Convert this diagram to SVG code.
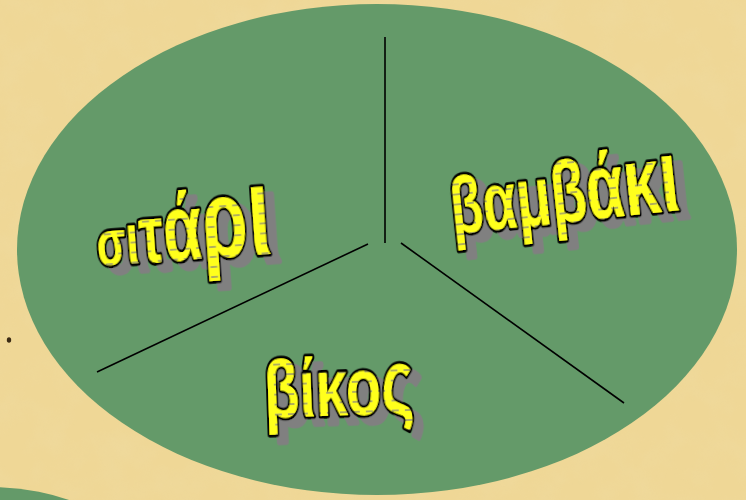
<svg xmlns="http://www.w3.org/2000/svg" width="746" height="500" viewBox="0 0 746 500">
  <defs>
    <filter id="paper" x="0" y="0" width="100%" height="100%">
      <feTurbulence type="fractalNoise" baseFrequency="0.03" numOctaves="4" seed="7" result="n"/>
      <feColorMatrix in="n" type="matrix" values="0 0 0 0 0.86  0 0 0 0 0.72  0 0 0 0 0.38  1.4 0 0 0 -0.55"/>
    </filter>
    <pattern id="dash" patternUnits="userSpaceOnUse" width="13" height="10">
      <rect width="13" height="10" fill="#ffff1a"/>
      <line x1="2" y1="5" x2="9" y2="5" stroke="#9c9a6a" stroke-width="1.6"/>
    </pattern>
    <filter id="shadow" x="-20%" y="-30%" width="150%" height="170%">
      <feOffset in="SourceAlpha" dx="9" dy="8" result="o"/>
      <feFlood flood-color="#808080"/>
      <feComposite in2="o" operator="in" result="s"/>
      <feMerge><feMergeNode in="s"/><feMergeNode in="SourceGraphic"/></feMerge>
    </filter>
    <style>
      .lbl { font-family: "Liberation Sans", Arial, sans-serif; font-weight: bold; fill: url(#dash); stroke: #000; stroke-width: 5.5; paint-order: stroke; stroke-linejoin: round; filter: url(#shadow); }
      .div { stroke: #000; stroke-width: 1.6; fill: none; }
      .plate { fill: #649a69; }
    </style>
  </defs>

  <g id="background">
    <rect width="746" height="500" fill="#efd796"/>
    <rect width="746" height="500" filter="url(#paper)" opacity="0.45"/>
    <ellipse cx="9" cy="340" rx="2.2" ry="2.8" fill="#3a2a14"/>
  </g>

  <g id="plate-lower">
    <ellipse class="plate" cx="-10" cy="740" rx="250" ry="253"/>
  </g>

  <g id="plate">
    <ellipse class="plate" cx="377" cy="249.5" rx="360" ry="245.5"/>
  </g>

  <g id="connectors">
    <line class="div" x1="385" y1="37" x2="385" y2="243"/>
    <line class="div" x1="368" y1="244" x2="97" y2="372"/>
    <line class="div" x1="401" y1="243" x2="624" y2="403"/>
  </g>

  <g id="label-sitari">
    <text class="lbl" x="98" y="266" textLength="176" lengthAdjust="spacingAndGlyphs" transform="rotate(-4 98 266)"><tspan font-size="64">σ</tspan><tspan font-size="72">ι</tspan><tspan font-size="82">τ</tspan><tspan font-size="94">ά</tspan><tspan font-size="112">ρ</tspan><tspan font-size="128">ι</tspan></text>
  </g>

  <g id="label-vamvaki">
    <text class="lbl" x="453" y="234" textLength="230" lengthAdjust="spacingAndGlyphs" transform="rotate(-6 453 234)"><tspan font-size="80">β</tspan><tspan font-size="82">α</tspan><tspan font-size="85">μ</tspan><tspan font-size="88">β</tspan><tspan font-size="92">ά</tspan><tspan font-size="97">κ</tspan><tspan font-size="104">ι</tspan></text>
  </g>

  <g id="label-vikos">
    <text class="lbl" x="265" y="418" textLength="150" lengthAdjust="spacingAndGlyphs" transform="rotate(-2 265 418)"><tspan font-size="82">β</tspan><tspan font-size="82">ί</tspan><tspan font-size="82">κ</tspan><tspan font-size="82">ο</tspan><tspan font-size="90">ς</tspan></text>
  </g>
</svg>
